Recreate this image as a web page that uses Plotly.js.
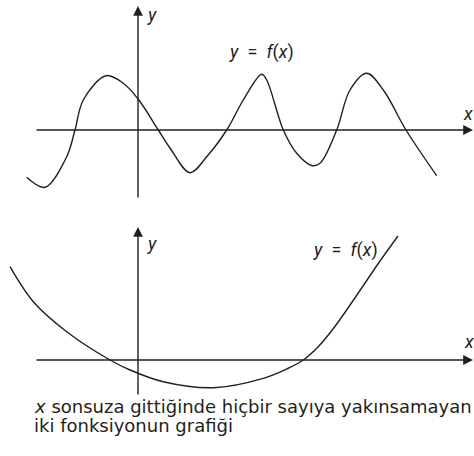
<!DOCTYPE html>
<html>
<head>
<meta charset="utf-8">
<script src="https://cdn.plot.ly/plotly-3.0.1.min.js"></script>
<style>
  html, body { margin: 0; padding: 0; background: #fff; }
  #chart { width: 474px; height: 456px; }
</style>
</head>
<body>
<div id="chart"></div>
<script>
// Upper graph: an oscillating function that keeps swinging between positive and negative values
const waveX = [-11.13, -9.3, -7.13, -6.3, -5.47, -3.2, -1.47, 0.03, 2.03, 3.2, 5.2, 6.87, 8.87, 10.53, 12.37, 12.87, 14.53, 15.87, 17.37, 18.2, 19.87, 21.2, 22.87, 24.53, 26.8, 29.87];
const waveY = [-4.73, -5.73, -2.67, 0, 3.0, 5.43, 4.67, 3.07, 0, -1.8, -4.27, -2.67, 0, 3.0, 5.57, 5.0, 0, -2.33, -3.55, -3.33, 0, 4.0, 5.67, 4.0, 0, -4.57];

// Lower graph: a function that grows without bound
const bowlX = [-12.8, -10.47, -7.13, -2.8, -0.8, 2.53, 7.53, 12.53, 14.87, 16.53, 18.0, 19.5, 21.0, 22.5, 24.2, 26.0];
const bowlY = [9.33, 5.83, 2.83, 0, -1.0, -2.17, -2.77, -1.83, -0.9, 0, 1.3, 3.1, 5.2, 7.4, 9.9, 12.4];

// Axis extents for each graph (in data units)
const topAxisX = [-10.3, 33.5];
const topAxisY = [-6.9, 12.4];
const lowAxisX = [-10.3, 33.5];
const lowAxisY = [-3.6, 13.3];

const captionLines = ['<i>x</i> sonsuza gittiğinde hiçbir sayıya yakınsamayan', 'iki fonksiyonun grafiği'];
const curveLabel = '<i>y</i>\u2002=\u2002<i>f</i>(<i>x</i>)';

const ink = '#231f20';
const labelFont = 'Roboto';
const capFont = 'DejaVu Sans';

const traces = [
  { x: waveX, y: waveY, xaxis: 'x', yaxis: 'y', mode: 'lines',
    line: { color: ink, width: 1.4, shape: 'spline', smoothing: 1 }, hoverinfo: 'skip' },
  { x: bowlX, y: bowlY, xaxis: 'x', yaxis: 'y2', mode: 'lines',
    line: { color: ink, width: 1.4, shape: 'spline', smoothing: 1 }, hoverinfo: 'skip' }
];

// Axis arrow drawn as an annotation from tail to tip
function arrow(yref, x0, y0, x1, y1) {
  return { xref: 'x', yref: yref, axref: 'x', ayref: yref,
    x: x1, y: y1, ax: x0, ay: y0, text: '', showarrow: true,
    arrowhead: 2, arrowsize: 1.4, arrowwidth: 1.4, arrowcolor: ink, standoff: 0 };
}
function label(yref, x, y, text, size) {
  return { xref: 'x', yref: yref, x: x, y: y, text: text, showarrow: false,
    font: { family: labelFont, size: size, color: ink }, xanchor: 'center', yanchor: 'middle' };
}

const capSize = 18;
const annotations = [
  arrow('y', topAxisX[0], 0, topAxisX[1], 0),
  arrow('y', 0, topAxisY[0], 0, topAxisY[1]),
  arrow('y2', lowAxisX[0], 0, lowAxisX[1], 0),
  arrow('y2', 0, lowAxisY[0], 0, lowAxisY[1]),
  label('y', 33.0, 1.7, '<i>x</i>', 18),
  label('y', 1.4, 11.6, '<i>y</i>', 18),
  label('y', 12.35, 7.8, curveLabel, 18),
  label('y2', 33.1, 1.9, '<i>x</i>', 18),
  label('y2', 1.4, 11.67, '<i>y</i>', 18),
  label('y2', 20.7, 11.0, curveLabel, 18),
  { xref: 'paper', yref: 'paper', x: 32 / 474, y: 1 - 406 / 456, xanchor: 'left', yanchor: 'middle',
    text: captionLines[0], showarrow: false, font: { family: capFont, size: capSize, color: ink } },
  { xref: 'paper', yref: 'paper', x: 32 / 474, y: 1 - 425 / 456, xanchor: 'left', yanchor: 'middle',
    text: captionLines[1], showarrow: false, font: { family: capFont, size: capSize, color: ink } }
];

const hidden = { visible: false, showgrid: false, zeroline: false, fixedrange: true };

const layout = {
  width: 474, height: 456,
  margin: { l: 0, r: 0, t: 0, b: 0 },
  paper_bgcolor: '#ffffff', plot_bgcolor: '#ffffff',
  showlegend: false,
  xaxis: Object.assign({ range: [-13.8, 33.6], domain: [0, 1] }, hidden),
  yaxis: Object.assign({ range: [-7, 13], domain: [1 - 200 / 456, 1] }, hidden),
  yaxis2: Object.assign({ range: [-4, 14], domain: [1 - 400 / 456, 1 - 220 / 456], anchor: 'x' }, hidden),
  annotations: annotations
};

Plotly.newPlot('chart', traces, layout, { staticPlot: true, displayModeBar: false });
</script>
</body>
</html>
